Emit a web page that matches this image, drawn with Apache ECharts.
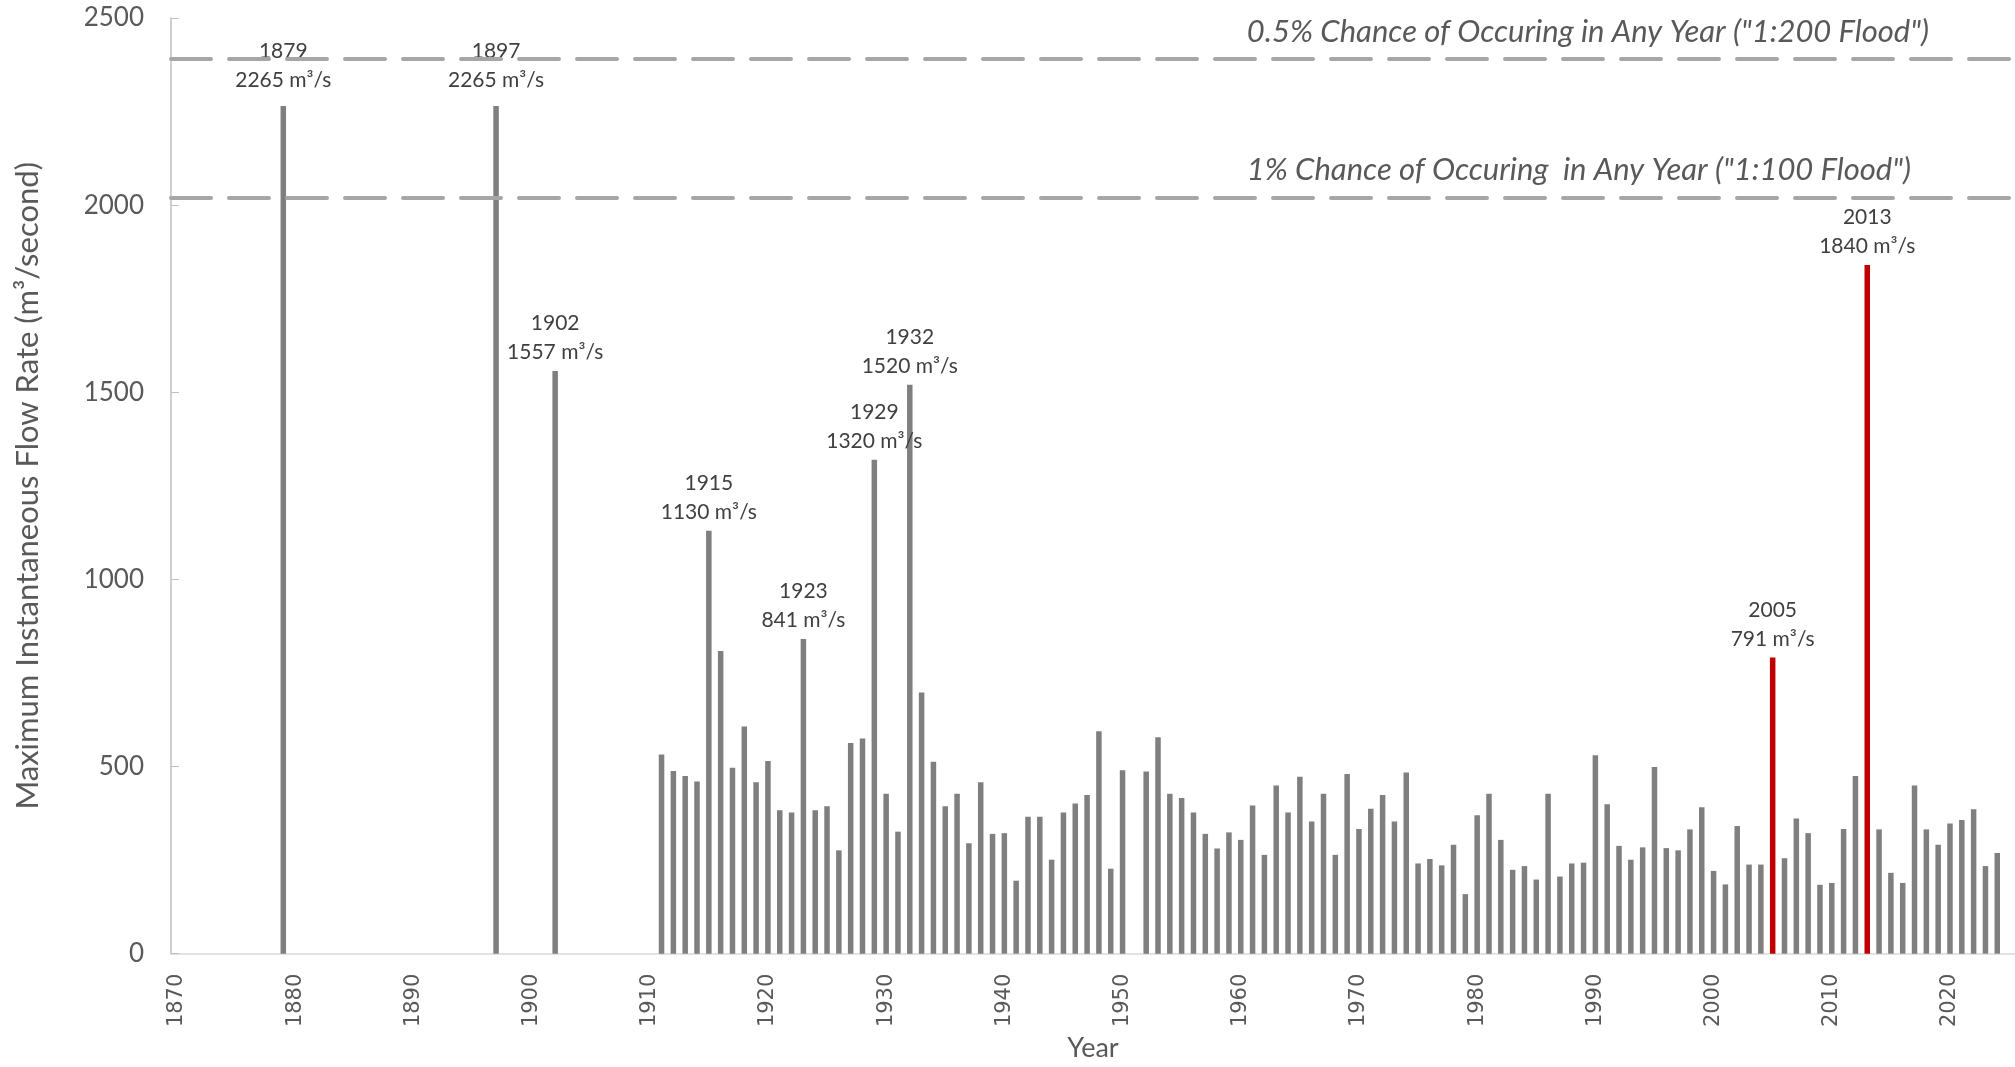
<!DOCTYPE html>
<html>
<head>
<meta charset="utf-8">
<script src="https://cdn.jsdelivr.net/npm/echarts@6/dist/echarts.min.js"></script>
<style>html,body{margin:0;padding:0;background:#fff;}#c{width:2015px;height:1067px;}</style>
</head>
<body>
<div id="c"></div>
<script>
const firstYear = 1870;
const lastYear = 2025;
const earlyYears = [1879, 1897, 1902];
const earlyFlows = [2265, 2265, 1557];
const recordStart = 1911;
const recordFlows = [
  532, 488, 475, 460, 1130, 809, 497, 607, 458, 515,
  383, 377, 841, 383, 394, 276, 563, 575, 1320, 427,
  326, 1520, 698, 513, 394, 427, 295, 458, 320, 322,
  195, 366, 366, 251, 377, 401, 424, 594, 227, 490,
  null, 487, 578, 427, 416, 377, 320, 281, 324, 304,
  396, 264, 449, 377, 473, 353, 427, 264, 480, 333,
  387, 424, 353, 484, 241, 253, 236, 291, 159, 370,
  427, 304, 224, 234, 198, 427, 206, 241, 243, 530,
  399, 288, 251, 284, 499, 282, 276, 332, 391, 221,
  185, 341, 238, 238, 791, 255, 361, 322, 184, 189,
  333, 475, 1840, 332, 216, 189, 449, 332, 291, 348,
  357, 386, 234, 269
];
const redYears = [2005, 2013];
const labeledYears = [1879, 1897, 1902, 1915, 1923, 1929, 1932, 2005, 2013];
const floodLevels = [2390, 2020];
const floodTexts = ['0.5% Chance of Occuring in Any Year ("1:200 Flood")', '1% Chance of Occuring  in Any Year ("1:100 Flood")'];
const yTicks = [0, 500, 1000, 1500, 2000, 2500];

const categories = [];
for (let y = firstYear; y <= lastYear; y++) categories.push(String(y));

const flowByYear = {};
earlyYears.forEach((y, i) => { flowByYear[y] = earlyFlows[i]; });
recordFlows.forEach((v, i) => { if (v !== null) flowByYear[recordStart + i] = v; });

const barData = categories.map(c => {
  const y = +c;
  const v = flowByYear[y];
  if (v === undefined) return null;
  const item = { value: v };
  if (redYears.includes(y)) item.itemStyle = { color: '#c00000' };
  if (labeledYears.includes(y)) {
    item.label = { show: true };
    if (v > floodLevels[1]) item.label.distance = 11;
  }
  return item;
});

const chart = echarts.init(document.getElementById('c'));
chart.setOption({
  animation: false,
  grid: { left: 171, right: 0, top: 18, bottom: 100, containLabel: false },
  xAxis: {
    type: 'category',
    data: categories,
    boundaryGap: true,
    name: 'Year',
    nameLocation: 'middle',
    nameGap: 80,
    nameTextStyle: { fontFamily: 'Lato', fontSize: 27, color: '#595959' },
    axisLine: { lineStyle: { color: '#d9d9d9', width: 1.5 } },
    axisTick: { show: false },
    axisLabel: { interval: 9, rotate: 90, margin: 20, fontFamily: 'DejaVu Sans', fontSize: 21, color: '#595959' }
  },
  yAxis: {
    type: 'value',
    min: yTicks[0],
    max: yTicks[yTicks.length - 1],
    interval: 500,
    name: 'Maximum Instantaneous Flow Rate (m³/second)',
    nameLocation: 'middle',
    nameGap: 128,
    nameTextStyle: { fontFamily: 'Lato', fontSize: 31, color: '#595959' },
    axisLine: { show: true, lineStyle: { color: '#bfbfbf', width: 1.5 } },
    axisTick: { show: true, inside: true, length: 8, lineStyle: { color: '#bfbfbf' } },
    splitLine: { show: false },
    axisLabel: { margin: 27, fontFamily: 'Lato', fontSize: 26, color: '#595959', formatter: v => String(v) }
  },
  series: [{
    type: 'bar',
    data: barData,
    barWidth: 5.5,
    itemStyle: { color: '#7f7f7f' },
    label: {
      show: false,
      position: 'top',
      distance: 4,
      fontFamily: 'Lato',
      fontSize: 21,
      lineHeight: 29,
      color: '#404040',
      align: 'center',
      formatter: p => p.name + '\n' + p.value + ' m³/s'
    },
    markLine: {
      silent: true,
      symbol: 'none',
      lineStyle: { color: '#a6a6a6', width: 4, type: [40, 18], cap: 'round' },
      data: [
        { yAxis: floodLevels[0], label: { show: true, formatter: floodTexts[0], position: 'insideEndTop', distance: [86, 12] } },
        { yAxis: floodLevels[1], label: { show: true, formatter: floodTexts[1], position: 'insideEndTop', distance: [104, 12] } }
      ],
      label: { fontFamily: 'Lato', fontStyle: 'italic', fontSize: 31, color: '#595959' }
    }
  }]
});
</script>
</body>
</html>
